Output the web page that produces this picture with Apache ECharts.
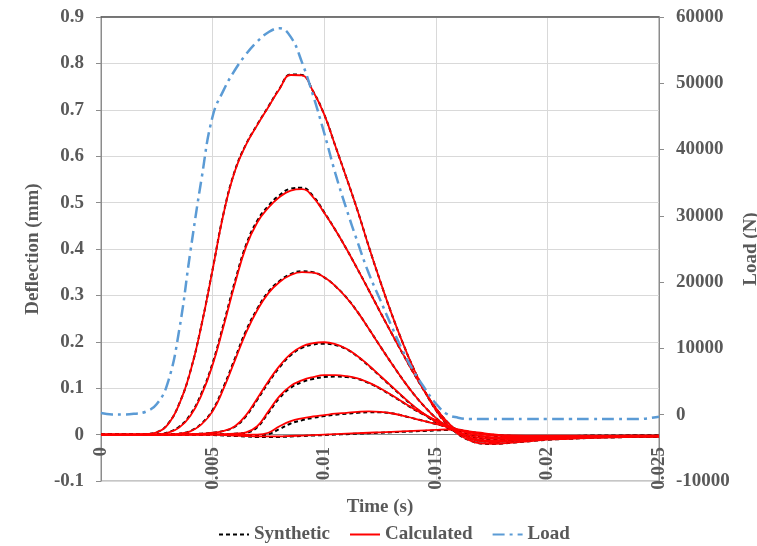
<!DOCTYPE html>
<html><head><meta charset="utf-8">
<script src="https://cdn.jsdelivr.net/npm/echarts@6/dist/echarts.min.js"></script>
<style>html,body{margin:0;padding:0;background:#fff}#c{width:757px;height:546px}</style>
</head><body><div id="c"></div>
<script>
// time (s)
const time = [0,0.0005,0.001,0.0015,0.002,0.0025,0.003,0.0035,0.004,0.0045,0.005,0.0055,0.006,0.0065,0.007,0.0075,0.008,0.0085,0.009,0.0095,0.01,0.0105,0.011,0.0115,0.012,0.0125,0.013,0.0135,0.014,0.0145,0.015,0.0155,0.016,0.0165,0.017,0.0175,0.018,0.019,0.02,0.021,0.022,0.023,0.024,0.025];

// Calculated deflections (mm)
const calc1 = [0,0,0,0,0.001,0.005,0.022,0.065,0.135,0.235,0.355,0.478,0.568,0.625,0.667,0.706,0.745,0.775,0.774,0.74,0.69,0.622,0.553,0.482,0.405,0.332,0.263,0.2,0.143,0.094,0.053,0.022,0.001,-0.012,-0.019,-0.02,-0.019,-0.015,-0.011,-0.009,-0.007,-0.006,-0.005,-0.005];
const calc2 = [0,0,0,0,0,0,0.004,0.015,0.04,0.085,0.15,0.235,0.325,0.405,0.457,0.489,0.512,0.526,0.529,0.512,0.478,0.441,0.4,0.356,0.311,0.265,0.22,0.176,0.133,0.093,0.057,0.028,0.006,-0.008,-0.014,-0.016,-0.015,-0.012,-0.009,-0.007,-0.006,-0.005,-0.004,-0.004];
const calc3 = [0,0,0,0,0,0,0,0.002,0.007,0.022,0.05,0.1,0.16,0.22,0.268,0.305,0.329,0.344,0.35,0.349,0.339,0.32,0.295,0.264,0.228,0.191,0.155,0.12,0.088,0.06,0.036,0.018,0.004,-0.006,-0.011,-0.013,-0.012,-0.01,-0.008,-0.006,-0.005,-0.004,-0.004,-0.003];
const calc4 = [0,0,0,0,0,0,0,0,0.001,0.002,0.004,0.008,0.018,0.042,0.078,0.115,0.148,0.174,0.19,0.197,0.199,0.195,0.185,0.169,0.149,0.127,0.105,0.083,0.062,0.044,0.028,0.016,0.006,-0.002,-0.007,-0.009,-0.009,-0.008,-0.006,-0.005,-0.004,-0.004,-0.003,-0.003];
const calc5 = [0,0,0,0,0,0,0,0,0,0,0.001,0.001,0.002,0.005,0.018,0.05,0.083,0.105,0.117,0.124,0.128,0.128,0.126,0.121,0.112,0.1,0.086,0.071,0.056,0.043,0.031,0.02,0.01,0.002,-0.003,-0.006,-0.007,-0.006,-0.005,-0.004,-0.004,-0.003,-0.003,-0.003];
const calc6 = [0,0,0,0,0,0,0,0,0,0,0,0,0,0,0,0.004,0.018,0.029,0.035,0.039,0.042,0.045,0.047,0.049,0.05,0.049,0.046,0.041,0.035,0.029,0.023,0.017,0.011,0.005,0.001,-0.002,-0.003,-0.004,-0.004,-0.003,-0.003,-0.003,-0.002,-0.002];
const calc7 = [0,0,0,0,0,0,0,0,0,0,0,-0.001,-0.002,-0.003,-0.004,-0.004,-0.004,-0.003,-0.002,-0.001,0,0.001,0.002,0.003,0.004,0.005,0.006,0.007,0.008,0.009,0.01,0.011,0.01,0.007,0.004,0.001,-0.001,-0.002,-0.002,-0.002,-0.002,-0.002,-0.002,-0.002];

// Synthetic deflections (mm)
const syn1 = [0,0,0,0,0.001,0.005,0.023,0.066,0.136,0.236,0.356,0.479,0.569,0.626,0.668,0.707,0.746,0.776,0.775,0.74,0.69,0.622,0.553,0.482,0.405,0.332,0.263,0.2,0.143,0.094,0.053,0.022,0.001,-0.012,-0.019,-0.02,-0.019,-0.015,-0.011,-0.009,-0.007,-0.006,-0.005,-0.005];
const syn2 = [0,0,0,0,0,0,0.005,0.017,0.043,0.089,0.154,0.24,0.33,0.409,0.461,0.493,0.516,0.53,0.532,0.514,0.479,0.441,0.4,0.356,0.311,0.265,0.22,0.176,0.133,0.093,0.057,0.028,0.006,-0.008,-0.014,-0.016,-0.015,-0.012,-0.009,-0.007,-0.006,-0.005,-0.004,-0.004];
const syn3 = [0,0,0,0,0,0,0,0.002,0.008,0.024,0.053,0.104,0.164,0.224,0.271,0.308,0.331,0.346,0.352,0.35,0.339,0.32,0.295,0.264,0.228,0.191,0.155,0.12,0.088,0.06,0.036,0.018,0.004,-0.006,-0.011,-0.013,-0.012,-0.01,-0.008,-0.006,-0.005,-0.004,-0.004,-0.003];
const syn4 = [0,0,0,0,0,0,0,0,0.001,0.002,0.004,0.008,0.017,0.04,0.075,0.112,0.145,0.171,0.187,0.194,0.196,0.193,0.184,0.168,0.148,0.126,0.104,0.082,0.061,0.043,0.027,0.015,0.005,-0.003,-0.008,-0.01,-0.01,-0.008,-0.006,-0.005,-0.004,-0.004,-0.003,-0.003];
const syn5 = [0,0,0,0,0,0,0,0,0,0,0.001,0.001,0.002,0.004,0.016,0.047,0.079,0.101,0.113,0.12,0.124,0.125,0.124,0.12,0.111,0.099,0.085,0.07,0.055,0.042,0.03,0.019,0.009,0.001,-0.004,-0.007,-0.008,-0.007,-0.005,-0.004,-0.004,-0.003,-0.003,-0.003];
const syn6 = [0,0,0,0,0,0,0,0,0,0,0,0,-0.001,-0.001,-0.002,0.001,0.012,0.024,0.031,0.036,0.04,0.043,0.045,0.047,0.048,0.048,0.046,0.041,0.035,0.029,0.023,0.017,0.011,0.005,0.001,-0.002,-0.003,-0.004,-0.004,-0.003,-0.003,-0.003,-0.002,-0.002];
const syn7 = [0,0,0,0,0,0,0,0,0,0,-0.001,-0.002,-0.003,-0.004,-0.005,-0.005,-0.005,-0.004,-0.003,-0.002,-0.001,0,0.001,0.002,0.003,0.004,0.005,0.006,0.007,0.008,0.009,0.01,0.009,0.006,0.003,0,-0.002,-0.003,-0.003,-0.003,-0.002,-0.002,-0.002,-0.002];

// Load (N)
const load = [250,50,30,150,450,1600,4900,12700,24500,35500,45000,49000,52000,54400,56300,57700,58300,57000,53200,48200,42500,36400,31000,26000,21300,17400,13500,9800,6600,4000,1700,100,-450,-650,-650,-650,-650,-650,-650,-650,-650,-650,-650,-300];

const calcSeries = [calc1, calc2, calc3, calc4, calc5, calc6, calc7];
const synSeries = [syn1, syn2, syn3, syn4, syn5, syn6, syn7];

const FONT = 'Liberation Serif';
const GREY = '#595959';
const FS = 19;
const SMOOTH = 0.45;
const pairs = arr => time.map((t, i) => [t, arr[i]]);

const series = [];
synSeries.forEach(a => series.push({
  name: 'Synthetic', type: 'line', data: pairs(a), symbol: 'none', smooth: SMOOTH,
  lineStyle: { color: '#000', width: 2, type: [4, 3] }, itemStyle: { color: '#000' }, z: 2
}));
calcSeries.forEach(a => series.push({
  name: 'Calculated', type: 'line', data: pairs(a), symbol: 'none', smooth: SMOOTH,
  lineStyle: { color: '#ff0000', width: 1.8 }, itemStyle: { color: '#ff0000' }, z: 3
}));
series.push({
  name: 'Load', type: 'line', yAxisIndex: 1, data: pairs(load), symbol: 'none', smooth: SMOOTH,
  lineStyle: { color: '#5b9bd5', width: 2.5, type: [12, 5, 3, 5] }, itemStyle: { color: '#5b9bd5' }, z: 4
});

const nameStyle = { fontFamily: FONT, fontSize: FS, fontWeight: 'bold', color: GREY };
const labelStyle = { fontFamily: FONT, fontSize: FS, fontWeight: 'bold', color: GREY };

const chart = echarts.init(document.getElementById('c'), null, { renderer: 'canvas' });
chart.setOption({
  animation: false,
  backgroundColor: '#fff',
  textStyle: { fontFamily: FONT },
  grid: { left: 101, right: 98, top: 17, bottom: 65, outerBoundsMode: 'none', containLabel: false,
    show: true, borderColor: '#8c8c8c', borderWidth: 1 },
  legend: {
    bottom: -3, left: 213, itemWidth: 30, itemHeight: 12, itemGap: 19,
    itemStyle: { opacity: 0 },
    data: ['Synthetic', 'Calculated', 'Load'],
    textStyle: { fontFamily: FONT, fontSize: FS, fontWeight: 'bold', color: GREY }
  },
  xAxis: [{
    type: 'value', min: 0, max: 0.025, interval: 0.005,
    name: 'Time (s)', nameLocation: 'middle', nameGap: 8, nameTextStyle: nameStyle,
    axisLine: { show: true, onZero: true, onZeroAxisIndex: 0, lineStyle: { color: '#8c8c8c', width: 1 } },
    axisTick: { show: false },
    axisLabel: Object.assign({ rotate: 90, margin: -34, formatter: v => String(+v.toFixed(3)) }, labelStyle),
    splitLine: { show: true, lineStyle: { color: '#d9d9d9', width: 1 } }
  }, {
    type: 'value', position: 'top', min: 0, max: 0.025,
    axisLine: { show: true, onZero: false, lineStyle: { color: '#595959', width: 1.5 } },
    axisTick: { show: false }, axisLabel: { show: false }, splitLine: { show: false }
  }],
  yAxis: [{
    type: 'value', min: -0.1, max: 0.9, interval: 0.1,
    name: 'Deflection (mm)', nameLocation: 'middle', nameGap: 51, nameRotate: 90, nameTextStyle: nameStyle,
    axisLine: { show: true, onZero: false, lineStyle: { color: '#8c8c8c' } },
    axisTick: { show: true, length: 5, lineStyle: { color: '#8c8c8c' } },
    axisLabel: Object.assign({ margin: 17,
      formatter: v => { const r = +v.toFixed(1); return r === 0 ? '0' : r.toFixed(1); } }, labelStyle),
    splitLine: { show: true, lineStyle: { color: '#d9d9d9', width: 1 } }
  }, {
    type: 'value', min: -10000, max: 60000, interval: 10000, position: 'right',
    name: 'Load (N)', nameLocation: 'middle', nameGap: 83, nameRotate: 90, nameTextStyle: nameStyle,
    axisLine: { show: true, onZero: false, lineStyle: { color: '#8c8c8c' } },
    axisTick: { show: true, length: 5, lineStyle: { color: '#8c8c8c' } },
    axisLabel: Object.assign({ margin: 17, formatter: v => String(Math.round(v)) }, labelStyle),
    splitLine: { show: false }
  }],
  series: series
});
</script>
</body></html>
